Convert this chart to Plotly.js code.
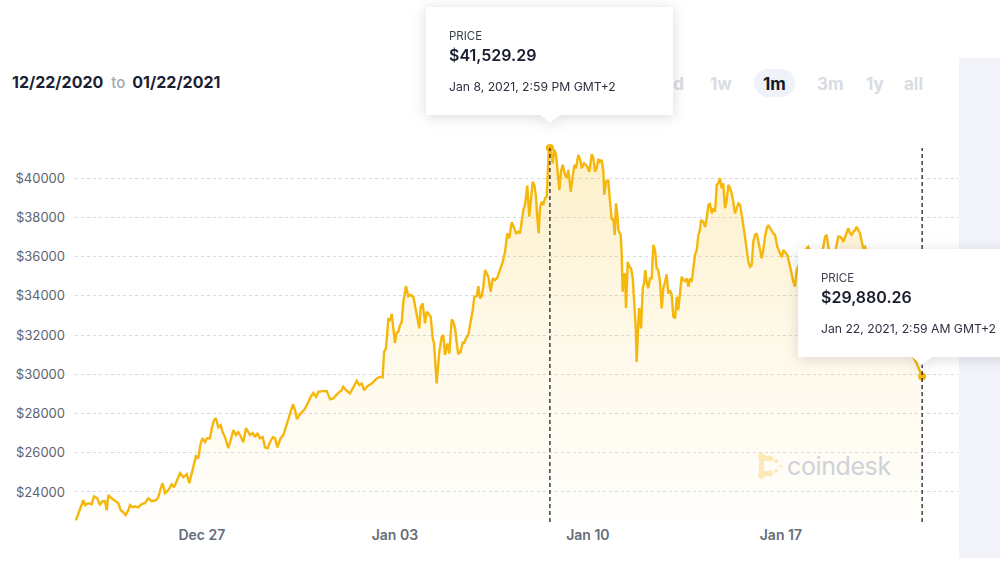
<!DOCTYPE html>
<html>
<head>
<meta charset="utf-8">
<script src="https://cdn.plot.ly/plotly-3.0.1.min.js"></script>
<style>
html,body{margin:0;padding:0;width:1000px;height:562px;overflow:hidden;background:#fff;font-family:Inter,"Noto Sans",sans-serif;}
#chart{position:absolute;left:0;top:0;width:1000px;height:562px;z-index:1;}
.panel{position:absolute;left:959px;top:58px;width:41px;height:500px;background:#f2f4f9;z-index:0;}
.range{position:absolute;left:12px;top:71px;font-size:16px;font-weight:700;color:#1b1f33;white-space:nowrap;line-height:22px;z-index:2;}
.range .to{color:#a4a8b1;font-weight:500;font-size:15px;margin:0 7px 0 8px;}
.pill{position:absolute;left:754px;top:69px;width:41px;height:28px;border-radius:14px;background:#eff2f8;z-index:2;}
.btn{position:absolute;top:72px;font-size:17px;font-weight:700;color:#d9dce4;line-height:24px;z-index:3;white-space:nowrap;}
.btn.on{color:#141828;}
.tip{position:absolute;width:247px;height:108px;z-index:6;filter:drop-shadow(0 2px 7px rgba(30,40,60,0.17));}
.tip .box{position:absolute;left:0;top:0;width:247px;height:108px;background:#fff;}
.tip .arrow{position:absolute;left:114px;top:108px;width:0;height:0;border-left:10px solid transparent;border-right:10px solid transparent;border-top:8px solid #fff;}
.tip .lab{position:absolute;left:23px;top:22px;font-size:11.5px;line-height:14px;color:#3c4150;}
.tip .val{position:absolute;left:23px;top:38px;font-size:16px;font-weight:600;line-height:20px;color:#181c2e;}
.tip .dt{position:absolute;left:23px;top:72px;font-size:12.2px;line-height:16px;color:#2c3040;white-space:nowrap;}
.wm{position:absolute;left:757px;top:451px;z-index:2;display:flex;align-items:center;}
.wm span{font-size:25px;color:#cfd2d9;margin-left:2px;line-height:30px;letter-spacing:-0.4px;}
</style>
</head>
<body>
<div class="panel"></div>
<div id="chart"></div>
<div class="range">12/22/2020<span class="to">to</span>01/22/2021</div>
<div class="pill"></div>
<div class="btn" style="left:666px">1d</div>
<div class="btn" style="left:710px">1w</div>
<div class="btn on" style="left:763px">1m</div>
<div class="btn" style="left:817px">3m</div>
<div class="btn" style="left:866px">1y</div>
<div class="btn" style="left:904px">all</div>
<div class="wm">
  <svg width="28" height="28" viewBox="0 0 28 28">
    <g fill="#fbeab8">
      <rect x="2" y="4" width="5" height="20" rx="2"/>
      <rect x="2" y="4" width="11" height="5" rx="2"/>
      <rect x="2" y="19" width="11" height="5" rx="2"/>
      <circle cx="4.5" cy="4.5" r="3.5"/>
      <circle cx="4.5" cy="23.5" r="3.5"/>
      <circle cx="13" cy="6.5" r="3"/>
      <circle cx="13" cy="21.5" r="3"/>
      <circle cx="19" cy="9" r="2"/>
      <circle cx="19" cy="19" r="2"/>
      <circle cx="24" cy="14" r="1.6"/>
    </g>
  </svg>
  <span>coindesk</span>
</div>
<div class="tip" id="tip0" style="left:426px;top:7px"><div class="box"></div><div class="arrow"></div><div class="lab">PRICE</div><div class="val"></div><div class="dt"></div></div>
<div class="tip" id="tip1" style="left:798px;top:249px"><div class="box"></div><div class="arrow"></div><div class="lab">PRICE</div><div class="val"></div><div class="dt"></div></div>
<script>
// Hours since 2020-12-22 00:00 (GMT+2 display time)
const hoursSinceStart = [
10.4,16.8,18.3,21.2,24.1,26.1,29.0,31.3,33.3,35.7,
37.2,38.6,41.5,44.4,47.3,49.4,51.6,53.7,56.0,57.5,
59.8,61.8,64.7,67.6,70.5,73.4,76.3,80.1,82.1,84.2,
85.9,87.9,90.8,93.8,95.8,98.1,101.0,103.9,106.8,109.1,
111.2,113.2,114.9,116.9,119.0,120.7,122.7,124.7,127.1,128.6,
130.6,132.3,134.3,136.4,138.1,140.2,143.0,145.1,147.4,149.7,
151.7,153.8,156.1,158.4,160.4,161.9,164.3,166.3,168.3,170.6,
173.0,175.0,177.3,179.3,181.7,183.7,185.7,188.6,190.9,193.3,
196.1,199.3,201.1,202.8,205.4,208.9,211.5,
214.1,217.0,219.4,221.4,225.2,228.7,231.6,234.4,238.8,241.7,
243.1,245.5,249.0,252.4,254.8,257.1,259.2,261.2,264.0,267.9,
272.2,275.1,277.4,278.6,280.3,282.3,283.8,285.3,286.7,288.1,
289.6,291.0,292.5,294.0,295.4,297.7,299.7,301.8,304.1,307.0,
309.3,310.5,312.2,314.3,315.7,317.1,319.2,321.0,322.1,324.4,
326.7,328.8,330.2,331.7,333.7,335.4,337.5,338.9,340.4,341.8,
343.2,345.3,347.1,348.2,349.9,351.9,354.0,355.8,357.2,359.3,
360.7,362.1,363.6,365.0,366.5,368.0,369.4,371.4,
373.2,375.2,377.2,379.5,381.9,383.9,385.9,387.6,389.7,391.7,
393.5,395.5,396.9,398.4,399.8,401.3,403.3,405.0,406.3,408.0,
409.4,410.9,412.0,413.2,414.4,415.8,417.2,418.7,420.2,421.1,
421.9,423.0,424.0,425.4,426.8,428.3,429.8,431.2,432.6,434.1,
436.1,437.6,439.0,441.1,442.8,444.2,445.7,447.7,449.2,450.7,
452.7,455.0,457.3,459.4,460.8,462.2,463.7,465.1,466.6,468.1,
469.5,470.3,471.8,473.8,475.3,476.8,478.2,479.4,480.5,481.6,
482.5,484.6,485.5,486.3,487.5,488.4,489.2,490.7,492.1,493.6,
495.1,496.5,497.7,498.5,499.4,500.5,501.4,502.3,503.8,504.9,
506.0,507.2,508.6,510.1,511.6,513.0,514.5,515.9,517.3,518.8,
520.3,521.7,523.2,524.6,526.0,527.5,529.0,530.4,531.9,533.4,
534.7,536.2,537.7,539.1,540.6,542.1,543.5,544.9,546.4,547.8,
549.3,550.8,552.2,553.6,554.5,556.5,558.0,559.5,560.9,
562.3,563.8,565.2,566.7,568.2,569.6,571.0,572.5,573.9,575.4,
576.9,578.3,579.8,581.2,582.6,584.1,585.6,587.0,588.5,589.9,
591.3,592.8,594.3,595.7,597.2,598.6,600.0,601.5,603.0,604.4,
605.9,607.3,608.7,610.2,611.7,613.1,614.6,616.0,617.4,618.9,
620.9,622.7,624.8,626.2,627.6,629.6,631.4,633.5,634.9,636.3,
637.8,640.7,644.2,646.5,647.9,651.1,654.6,658.1,660.7,662.5,
663.9,665.3,667.7,671.2,674.0,675.5,677.0,678.4,681.3,682.7,
684.2,685.7,687.1,688.6,690.0,691.4,692.9,694.4,695.8,697.3,
699.9,703.4,706.8,710.3,713.8,717.3,720.8,724.3,727.7,731.2,
734.7,738.2,741.7,747.0
];
// BTC price in USD
const priceUsd = [
22560,23580,23330,23430,23380,23780,23680,23330,23530,23530,
23070,23840,23680,23530,23430,23070,22970,22820,23070,23330,
23220,23270,23220,23380,23430,23680,23530,23580,23730,24190,
24450,23940,24090,24400,24240,24550,24960,24750,24910,24450,
24960,25520,25820,25720,26490,26740,26540,26740,26740,27250,
27660,27760,27300,27410,27050,26790,26230,26640,27150,26900,
27050,26840,26540,27250,27050,26900,27000,26790,27000,26740,
26790,26280,26230,26540,26790,26740,26280,26740,26900,27300,
27860,28480,28170,27710,27970,28170,28430,
28770,29050,28850,29100,29140,29150,28720,28770,29050,29190,
29360,29190,29020,29360,29660,29450,29530,29190,29390,29530,
29790,29870,29840,31140,31320,32800,32760,33070,32420,31600,
32110,32160,32500,32670,33690,34490,33980,34040,33950,33100,
32340,33440,33610,32590,33180,33100,32930,31830,31570,29530,
31140,31910,32000,30980,31570,31060,32800,32670,32340,31650,
31030,31140,31650,31570,31830,32000,32590,33270,33950,33980,
34490,33870,33980,34460,35310,35140,34970,34200,
34900,34800,34920,35310,35730,36240,37180,36930,37740,37470,
37180,37260,37180,37770,38370,38630,39610,38030,38790,39810,
39650,39050,37950,37180,38540,38790,38630,38970,39050,40160,
41350,41529.29,41300,40750,41450,41180,40320,39390,40320,40670,
40160,39990,40410,39300,40070,40670,40500,41180,40970,40500,
40750,40630,40320,41210,41010,40320,40500,40970,40830,40920,
40320,39140,39810,39900,38790,37860,37950,37100,38710,38200,
37350,37100,36080,34200,35140,35060,33360,35730,35480,35400,
34890,33360,32340,30630,32340,33360,33180,32340,34380,34630,
35310,34710,34380,34890,34890,36590,36330,35400,35310,34710,
33360,34380,34710,35090,34120,34290,34040,32930,32850,33950,
33270,34040,34970,34800,34750,34890,34460,34890,34710,35400,
36080,36330,37100,37350,37860,37760,37500,37950,38630,
38710,38200,38460,38280,39650,39730,39990,39480,39730,38460,
38880,39650,39480,39220,38790,38200,38460,38710,38630,38200,
37600,37010,36240,35730,35480,35570,36750,37100,37180,36840,
36330,35910,36330,37010,37440,37600,37440,37260,37180,37100,
36500,36240,35960,36330,36240,36080,35650,34970,34710,34460,
35310,35720,36230,36420,36500,36080,35720,36020,36430,37010,
37100,36500,36080,36230,37010,37010,36930,36750,37260,37440,
37180,37100,37260,37350,37520,37350,37180,36750,36420,36500,
35920,35310,35720,34800,33780,34290,33530,32760,33170,32250,
31490,30980,30620,29880.26
];
const highlightTimes = ['2021-01-08 14:59', '2021-01-22 02:59'];
const highlightPrices = [41529.29, 29880.26];
const highlightLabels = ['Jan 8, 2021, 2:59 PM GMT+2', 'Jan 22, 2021, 2:59 AM GMT+2'];
const xTickDates = ['2020-12-27', '2021-01-03', '2021-01-10', '2021-01-17'];
const xTickLabels = ['Dec 27', 'Jan 03', 'Jan 10', 'Jan 17'];
const yTickValues = [24000, 26000, 28000, 30000, 32000, 34000, 36000, 38000, 40000];

if (hoursSinceStart.length !== priceUsd.length) console.error('length mismatch', hoursSinceStart.length, priceUsd.length);

const T0 = Date.UTC(2020, 11, 22, 0, 0, 0);
function hoursToDate(h) {
  const d = new Date(T0 + Math.round(h * 60) * 60000);
  return d.toISOString().slice(0, 16).replace('T', ' ');
}
const times = hoursSinceStart.map(hoursToDate);
const lineColor = '#f6b70c';

const priceTrace = {
  type: 'scatter', mode: 'lines', x: times, y: priceUsd,
  line: {color: lineColor, width: 2.4},
  fill: 'tozeroy',
  fillgradient: {
    type: 'vertical', start: 22400, stop: 41600,
    colorscale: [[0, 'rgba(249,198,50,0.02)'], [0.5, 'rgba(249,198,50,0.11)'], [1, 'rgba(249,198,50,0.27)']]
  },
  hoverinfo: 'skip'
};
const markTrace = {
  type: 'scatter', mode: 'markers', x: highlightTimes, y: highlightPrices,
  marker: {color: lineColor, size: 8}, hoverinfo: 'skip'
};
const topVal = Math.max(...highlightPrices);
const shapes = highlightTimes.map(t => ({
  type: 'line', xref: 'x', yref: 'y', x0: t, x1: t, y0: 22471, y1: topVal,
  line: {color: '#1f2129', width: 1.3, dash: '4px,3px'}, layer: 'above'
}));

const layout = {
  width: 1000, height: 562,
  margin: {l: 75, r: 42, t: 130, b: 40, pad: 0},
  paper_bgcolor: 'rgba(0,0,0,0)', plot_bgcolor: 'rgba(0,0,0,0)',
  showlegend: false, hovermode: false,
  xaxis: {
    type: 'date', range: ['2020-12-22 09:36', '2021-01-23 10:12'],
    tickvals: xTickDates, ticktext: xTickLabels,
    showgrid: false, zeroline: false, showline: false, ticks: '',
    tickfont: {family: 'Inter, sans-serif', size: 14, color: '#676c79', weight: 600},
    ticklabelstandoff: 3
  },
  yaxis: {
    range: [22471, 42446], tickvals: yTickValues, ticktext: yTickValues.map(v => '$' + v),
    showgrid: true, gridcolor: '#d3d9e5', griddash: 'dot', gridwidth: 1,
    zeroline: false, showline: false, ticks: '',
    tickfont: {family: 'Inter, sans-serif', size: 13, color: '#5e6371'},
    ticklabelstandoff: 9
  },
  shapes: shapes
};

Plotly.newPlot('chart', [priceTrace, markTrace], layout, {staticPlot: true, displayModeBar: false});

highlightPrices.forEach((p, i) => {
  const tip = document.getElementById('tip' + i);
  tip.querySelector('.val').textContent = '$' + p.toLocaleString('en-US', {minimumFractionDigits: 2, maximumFractionDigits: 2});
  tip.querySelector('.dt').textContent = highlightLabels[i];
});
</script>
</body>
</html>
